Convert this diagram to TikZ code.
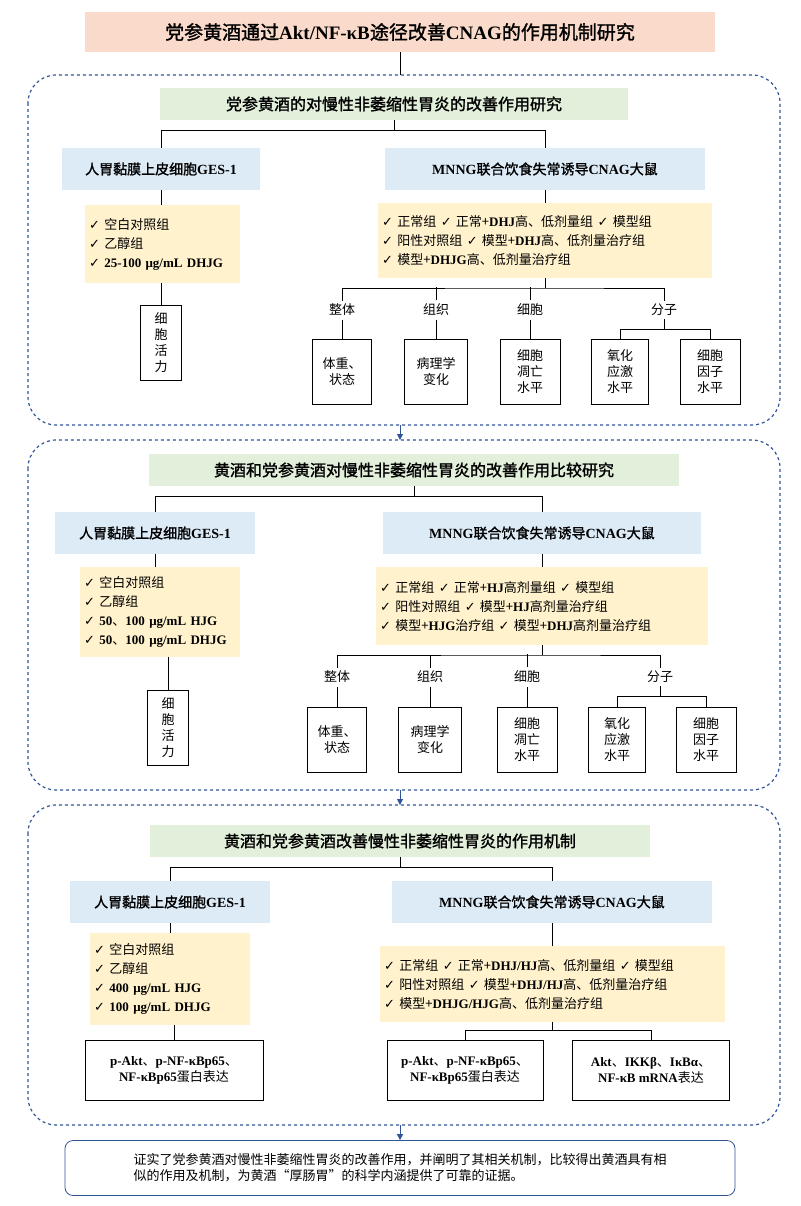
\documentclass[tikz,border=0pt]{standalone}
\usepackage{fontspec}
\setmainfont{Noto Sans CJK SC}[BoldFont=*,BoldFeatures={FakeBold=1.5}]
\newfontfamily\lbf{Liberation Serif}
\newfontfamily\djv{DejaVu Sans}
\newcommand\E[1]{{\lbf\bfseries #1}}
\newcommand\ck{{\djv ✓}\ }
\usetikzlibrary{arrows.meta}
\definecolor{dblue}{HTML}{2F5597}
\definecolor{peach}{HTML}{FADBCB}
\definecolor{lgreen}{HTML}{E2EFDA}
\definecolor{lblue}{HTML}{DDEBF7}
\definecolor{lyel}{HTML}{FFF2CC}
\begin{document}
\begin{tikzpicture}[x=1pt,y=-1pt,font=\fontsize{13}{16}\selectfont,
 sec/.style={draw=dblue,dashed,line width=1.2pt,rounded corners=28pt},
 hdr/.style={fill=lgreen,font=\fontsize{16}{18}\selectfont\bfseries,inner sep=0pt},
 bl/.style={fill=lblue,font=\fontsize{14}{16}\selectfont\bfseries,inner sep=0pt},
 lst/.style={fill=lyel,align=left,inner sep=0pt,text width=#1},
 bx/.style={draw,thick,align=center,inner sep=0pt},
 ln/.style={thick},
 arr/.style={dblue,thick,-{Triangle[length=6pt,width=6pt]}}]
\useasboundingbox (0,0) rectangle (800,1206);
\node[fill=peach,minimum width=630pt,minimum height=40pt,font=\fontsize{19}{20}\selectfont\bfseries] (title) at (400,32) {党参黄酒通过\E{Akt/NF-κB}途径改善\E{CNAG}的作用机制研究};
% ---- section 1
\draw[sec] (28,75) rectangle (780,425); \coordinate (s1t) at (400,75); \coordinate (s1b) at (400,425);
\node[hdr,minimum width=468pt,minimum height=32pt] (h1) at (394,104) {党参黄酒的对慢性非萎缩性胃炎的改善作用研究};
\node[bl,minimum width=198pt,minimum height=42pt] (a1) at (161,169) {人胃黏膜上皮细胞\E{GES-1}};
\node[bl,minimum width=320pt,minimum height=42pt] (b1) at (545,169) {\E{MNNG}联合饮食失常诱导\E{CNAG}大鼠};
\node[lst=155pt,minimum height=78pt,anchor=north west] (la1) at (85,205) {\hspace*{4pt}\ck 空白对照组\\[3pt]\hspace*{4pt}\ck 乙醇组\\[3pt]\hspace*{4pt}\ck \E{25-100 μg/mL DHJG}};
\node[bx,minimum width=41pt,minimum height=75pt,text width=14pt] (v1) at (161,343) {细\\胞\\活\\力};
\node[lst=334pt,minimum height=75pt,anchor=north west] (lb1) at (378,203) {\hspace*{4pt}\ck 正常组 \ck 正常+\E{DHJ}高、低剂量组 \ck 模型组\\[3pt]\hspace*{4pt}\ck 阳性对照组 \ck 模型+\E{DHJ}高、低剂量治疗组\\[3pt]\hspace*{4pt}\ck 模型+\E{DHJG}高、低剂量治疗组};
\node (t1a) at (342,310) {整体}; \node (t1b) at (436,310) {组织}; \node (t1c) at (530,310) {细胞}; \node (t1d) at (664,310) {分子};
\node[bx,minimum width=59pt,minimum height=65pt] (c1a) at (342,372) {体重、\\状态};
\node[bx,minimum width=63pt,minimum height=65pt] (c1b) at (436,372) {病理学\\变化};
\node[bx,minimum width=60pt,minimum height=65pt] (c1c) at (530,372) {细胞\\凋亡\\水平};
\node[bx,minimum width=57pt,minimum height=65pt] (c1d) at (620,372) {氧化\\应激\\水平};
\node[bx,minimum width=60pt,minimum height=65pt] (c1e) at (710,372) {细胞\\因子\\水平};
\draw[ln] (title.south) -- (s1t);
\draw[ln] (h1.south) -- ++(0,10) coordinate (j1); \draw[ln] (a1.north) |- (j1) -| (b1.north);
\draw[ln] (a1) -- (la1.north -| a1); \draw[ln] (la1.south -| v1) -- (v1);
\draw[ln] (b1.south) -- (lb1.north -| b1);
\draw[ln] (lb1.south -| b1) -- (545,288) coordinate (k1); \draw[ln] (t1a.north) |- (k1) -| (t1d.north); \draw[ln] (t1b.north) -- ++(0,-13); \draw[ln] (t1c.north) -- ++(0,-13);
\foreach \t/\c in {t1a/c1a,t1b/c1b,t1c/c1c}{\draw[ln] (\t.south) -- (\c.north);}
\draw[ln] (t1d.south) -- ++(0,10) coordinate (m1); \draw[ln] (c1d.north) |- (m1) -| (c1e.north);
% ---- section 2
\draw[sec] (28,440) rectangle (780,790); \coordinate (s2t) at (400,440); \coordinate (s2b) at (400,790);
\node[hdr,minimum width=530pt,minimum height=32pt] (h2) at (414,470) {黄酒和党参黄酒对慢性非萎缩性胃炎的改善作用比较研究};
\node[bl,minimum width=200pt,minimum height=42pt] (a2) at (155,533) {人胃黏膜上皮细胞\E{GES-1}};
\node[bl,minimum width=318pt,minimum height=42pt] (b2) at (542,533) {\E{MNNG}联合饮食失常诱导\E{CNAG}大鼠};
\node[lst=160pt,minimum height=90pt,anchor=north west] (la2) at (80,567) {\hspace*{4pt}\ck 空白对照组\\[3pt]\hspace*{4pt}\ck 乙醇组\\[3pt]\hspace*{4pt}\ck \E{50}、\E{100 μg/mL HJG}\\[3pt]\hspace*{4pt}\ck \E{50}、\E{100 μg/mL DHJG}};
\node[bx,minimum width=41pt,minimum height=75pt,text width=14pt] (v2) at (168,728) {细\\胞\\活\\力};
\node[lst=332pt,minimum height=78pt,anchor=north west] (lb2) at (376,567) {\hspace*{4pt}\ck 正常组 \ck 正常+\E{HJ}高剂量组 \ck 模型组\\[3pt]\hspace*{4pt}\ck 阳性对照组 \ck 模型+\E{HJ}高剂量治疗组\\[3pt]\hspace*{4pt}\ck 模型+\E{HJG}治疗组 \ck 模型+\E{DHJ}高剂量治疗组};
\node (t2a) at (337,677) {整体}; \node (t2b) at (430,677) {组织}; \node (t2c) at (527,677) {细胞}; \node (t2d) at (660,677) {分子};
\node[bx,minimum width=59pt,minimum height=65pt] (c2a) at (337,740) {体重、\\状态};
\node[bx,minimum width=63pt,minimum height=65pt] (c2b) at (430,740) {病理学\\变化};
\node[bx,minimum width=60pt,minimum height=65pt] (c2c) at (527,740) {细胞\\凋亡\\水平};
\node[bx,minimum width=57pt,minimum height=65pt] (c2d) at (617,740) {氧化\\应激\\水平};
\node[bx,minimum width=60pt,minimum height=65pt] (c2e) at (706,740) {细胞\\因子\\水平};
\draw[arr] (s1b) -- (s2t);
\draw[ln] (h2.south) -- ++(0,10) coordinate (j2); \draw[ln] (a2.north) |- (j2) -| (b2.north);
\draw[ln] (a2) -- (la2.north -| a2); \draw[ln] (la2.south -| v2) -- (v2);
\draw[ln] (b2.south) -- (lb2.north -| b2);
\draw[ln] (lb2.south -| b2) -- (542,655) coordinate (k2); \draw[ln] (t2a.north) |- (k2) -| (t2d.north); \draw[ln] (t2b.north) -- ++(0,-13); \draw[ln] (t2c.north) -- ++(0,-13);
\foreach \t/\c in {t2a/c2a,t2b/c2b,t2c/c2c}{\draw[ln] (\t.south) -- (\c.north);}
\draw[ln] (t2d.south) -- ++(0,10) coordinate (m2); \draw[ln] (c2d.north) |- (m2) -| (c2e.north);
% ---- section 3
\draw[sec] (28,805) rectangle (780,1125); \coordinate (s3t) at (400,805); \coordinate (s3b) at (400,1125);
\node[hdr,minimum width=500pt,minimum height=32pt] (h3) at (400,841) {黄酒和党参黄酒改善慢性非萎缩性胃炎的作用机制};
\node[bl,minimum width=200pt,minimum height=42pt] (a3) at (170,902) {人胃黏膜上皮细胞\E{GES-1}};
\node[bl,minimum width=320pt,minimum height=42pt] (b3) at (552,902) {\E{MNNG}联合饮食失常诱导\E{CNAG}大鼠};
\node[lst=160pt,minimum height=92pt,anchor=north west] (la3) at (90,933) {\hspace*{4pt}\ck 空白对照组\\[3pt]\hspace*{4pt}\ck 乙醇组\\[3pt]\hspace*{4pt}\ck \E{400 μg/mL HJG}\\[3pt]\hspace*{4pt}\ck \E{100 μg/mL DHJG}};
\node[lst=345pt,minimum height=76pt,anchor=north west] (lb3) at (380,946) {\hspace*{4pt}\ck 正常组 \ck 正常+\E{DHJ/HJ}高、低剂量组 \ck 模型组\\[3pt]\hspace*{4pt}\ck 阳性对照组 \ck 模型+\E{DHJ/HJ}高、低剂量治疗组\\[3pt]\hspace*{4pt}\ck 模型+\E{DHJG/HJG}高、低剂量治疗组};
\node[bx,minimum width=178pt,minimum height=60pt] (p3) at (174,1070) {\E{p-Akt}、\E{p-NF-κBp65}、\\\E{NF-κBp65}蛋白表达};
\node[bx,minimum width=156pt,minimum height=60pt] (q3) at (465,1070) {\E{p-Akt}、\E{p-NF-κBp65}、\\\E{NF-κBp65}蛋白表达};
\node[bx,minimum width=157pt,minimum height=60pt] (r3) at (651,1070) {\E{Akt}、\E{IKKβ}、\E{IκBα}、\\\E{NF-κB mRNA}表达};
\draw[arr] (s2b) -- (s3t);
\draw[ln] (h3.south) -- ++(0,10) coordinate (j3); \draw[ln] (a3.north) |- (j3) -| (b3.north);
\draw[ln] (a3) -- (la3.north -| a3); \draw[ln] (la3.south -| p3) -- (p3);
\draw[ln] (b3.south) -- (lb3.north -| b3);
\draw[ln] (lb3.south -| b3) -- (552,1030) coordinate (k3); \draw[ln] (q3.north) |- (k3) -| (r3.north);
% ---- final
\node[draw=dblue,thick,rounded corners=8pt,minimum width=670pt,minimum height=55pt,align=left] (fin) at (400,1168) {证实了党参黄酒对慢性非萎缩性胃炎的改善作用，并阐明了其相关机制，比较得出黄酒具有相\\似的作用及机制，为黄酒“厚肠胃”的科学内涵提供了可靠的证据。};
\draw[arr] (s3b) -- (fin.north);
\end{tikzpicture}
\end{document}
